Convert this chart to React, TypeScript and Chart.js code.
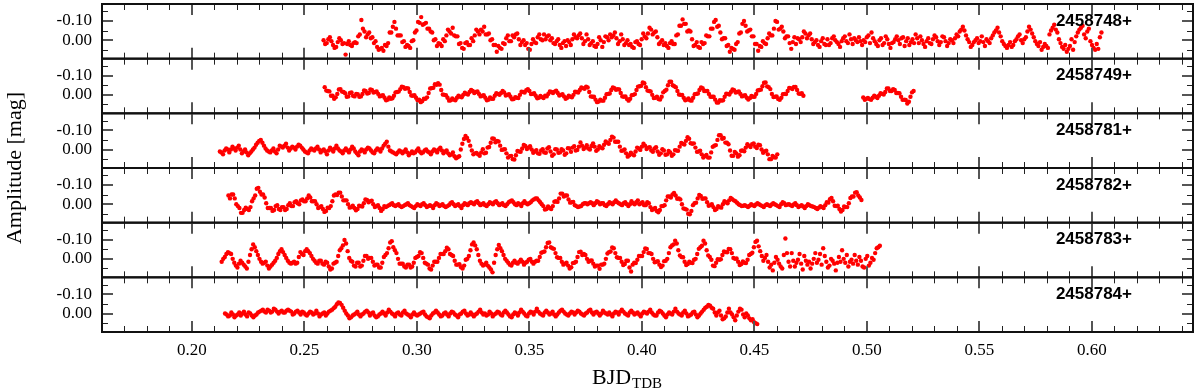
import React, { useEffect, useRef } from 'react';
import { Chart, registerables } from 'chart.js';
Chart.register(...registerables);

// ---------- data ----------
const PANEL_LABELS = ['2458748+', '2458749+', '2458781+', '2458782+', '2458783+', '2458784+'];
const CADENCE = 0.0007; // days between exposures
const X_MIN = 0.16;
const X_MAX = 0.645;
const Y_MIN = -0.188;
const Y_MAX = 0.096;
const X_MAJOR_TICKS = [0.2, 0.25, 0.3, 0.35, 0.4, 0.45, 0.5, 0.55, 0.6];
const X_MINOR_TICKS = [0.16, 0.17, 0.18, 0.19, 0.21, 0.22, 0.23, 0.24, 0.26, 0.27, 0.28, 0.29, 0.31, 0.32, 0.33, 0.34, 0.36, 0.37, 0.38, 0.39, 0.41, 0.42, 0.43, 0.44, 0.46, 0.47, 0.48, 0.49, 0.51, 0.52, 0.53, 0.54, 0.56, 0.57, 0.58, 0.59, 0.61, 0.62, 0.63, 0.64];
const Y_MAJOR_TICKS = [-0.1, 0.0];
const Y_MINOR_TICKS = [-0.15, -0.05, 0.05];

// magnitudes in mmag; first exposure time in BJD - 24587xx
const START_748 = 0.2585;
const MAG_748 = [
  0, 20, 15, -5, -15, 5, 25, 40, 35, 10, -10, 0, 20, 15, 75, 20, 5, 25, 30, 15,
  10, 15, -20, -30, -105, -60, -45, -15, -30, -40, -10, -15, 15, 5, 35, 50, 45, 40, 55, 25,
  30, 15, -40, -40, -70, -95, -60, -25, -25, -25, 10, 5, 35, 25, 30, 40, 5, 0, -40, -50,
  -95, -90, -120, -80, -85, -90, -60, -60, -45, -40, 0, -5, 30, 15, 20, 30, -5, 5, -25, -55,
  -45, -35, -65, -25, -20, -20, 20, 15, 40, 45, 15, 10, 25, 25, -10, 5, -25, -55, -45, -30,
  -55, -45, -70, -30, -30, -35, 0, -5, 25, 25, 60, 30, 40, 45, 15, 20, -10, -25, 5, 5,
  -25, -15, -30, -35, -5, 25, 10, 0, 25, 15, 45, 50, 20, -5, 10, 15, -15, -30, -5, 0,
  -30, -5, -20, -25, 0, -10, 15, 20, 5, -5, 25, 40, 15, 5, 30, 0, 10, 25, -5, -30,
  -15, -10, -25, -35, -10, 20, 5, -30, -5, 25, 15, 5, 30, 35, 20, -15, 0, 35, 10, -20,
  -15, 0, -30, -15, -25, -40, -10, 20, 5, -30, -5, 25, 15, 0, 25, 20, 35, 40, 10, 5,
  20, 25, -5, -35, -20, -10, -35, -65, -55, -30, -40, -45, -15, 20, 10, 0, 25, 15, 30, 40,
  15, 5, 20, 20, -25, -30, -75, -75, -108, -85, -85, -45, -50, -45, -5, 30, 25, 10, 35, 40,
  10, 20, 15, -25, -20, -20, -60, -60, -95, -105, -70, -75, -40, -5, -10, -10, 30, 25, 60, 40,
  45, 50, 20, 10, -35, -40, -85, -100, -75, -45, -50, -55, -20, -20, 20, 20, 55, 30, 35, 5,
  15, 20, -10, -35, -25, -25, -60, -100, -95, -55, -60, -70, -45, -10, -20, -20, 15, 45, 10, -15,
  20, -10, -5, 10, -15, -45, -35, -10, -25, -35, -5, 20, 10, 0, 25, 35, 5, -10, 20, 25,
  -5, 25, 15, -10, -20, 0, 10, 20, 35, 5, -10, -20, 5, 15, -30, -5, 20, -10, 0, 10,
  -15, 5, 25, 0, 10, -15, -25, 15, -40, -10, 5, 20, 30, 0, -10, 25, 15, -20, -5, 20,
  40, 15, 10, -5, -20, 0, 20, -10, -15, 30, 5, -10, 25, 10, -5, 15, -30, -10, 15, -20,
  0, 20, 35, 5, -10, 15, 20, -5, -25, -15, 5, 25, 10, -20, -15, 5, 30, 15, -5, 0,
  15, -10, -30, -20, -45, -55, -70, -50, -25, -5, 10, 35, 25, 10, 0, -10, 15, 5, -20, 10,
  30, -5, 5, 15, -10, -25, -40, -50, -65, -40, -20, 5, 20, 30, 40, 25, 10, 35, 25, 5,
  -5, -20, -30, 0, 15, -5, -15, -45, -70, -55, -35, -15, 5, 20, 30, 10, 50, 35, 20, 30,
  40, -30, -50, -65, -80, -55, -40, -5, 15, 35, 45, 25, 60, 45, 30, -5, 50, 10, -20, -40,
  -55, -65, -75, -30, -10, -45, -60, 5, 25, 40, 50, 20, 45, -15, -40,
];

const START_749A = 0.259;
const MAG_749A = [
  -40, -22, -20, -18, 5, 5, 20, 13, -5, -28, -30, -17, -15, -8, 10, 8, -10, -13, 5, 8,
  -5, -3, 10, 8, -5, -23, -20, -7, -10, -28, -25, -12, -15, -18, -5, 8, 5, 2, 15, 28,
  25, 14, 20, 18, 5, -13, -15, -17, -30, -43, -40, -32, -35, -33, -15, 3, 5, 2, 15, 28,
  25, 38, 32, 20, 20, 13, -10, -33, -35, -37, -55, -52, -60, -53, -25, -2, 0, 2, 15, 30,
  28, 19, 25, 28, 15, 4, 10, 13, 0, -11, -5, -2, -15, -26, -20, -10, -15, -18, -5, 8,
  5, 2, 15, 28, 25, 14, 20, 20, 5, -8, -5, 0, -10, -20, -12, 3, 0, -3, 10, 23,
  22, 12, 15, 16, 0, -16, -15, -12, -24, -30, -20, -4, -5, -8, 5, 18, 15, 6, 12, 16,
  5, 8, -5, -18, -15, -10, -17, -22, -10, 3, 0, -4, 8, 20, 15, 4, 10, 13, 0, -16,
  -15, -12, -25, -38, -35, -32, -42, -38, -15, 8, 10, 10, 25, 38, 35, 25, 30, 30, 15, -3,
  -5, -7, -25, -38, -35, -26, -30, -28, -10, 8, 10, 8, 22, 30, 20, 2, 0, -4, -25, -43,
  -45, -47, -64, -60, -40, -22, -20, -18, 0, 16, 15, 10, 22, 24, 10, -13, -20, -27, -50, -68,
  -68, -50, -45, -40, -20, -2, 0, 0, 15, 28, 25, 19, 28, 30, 15, -3, -5, -7, -25, -38,
  -34, -20, -20, -20, -5, 10, 10, 10, 25, 40, 40, 28, 30, 28, 10, -6, -5, -2, -15, -28,
  -24, -12, -15, -18, -5, 8, 5, 2, 15, 24, 17, 6, 10, 10, -5, -23, -25, -27, -45, -63,
  -64, -44, -40, -30, -5, 11, 10, 8, 22, 26, 15, -3, -5, -4, -20, -36, -35, -30, -41, -41,
  -25, -7, -5, -8, 5,
];
const START_749B = 0.4984;
const MAG_749B = [
  14, 26, 20, 16, 22, 26, 15, 4, 10, 16, 5, -8, -5, -2, -15, -33, -33, -20, -20, -30,
  -25, -10, -10, -8, 10, 26, 25, 27, 45, 36, 10, -13, -20,
];

const START_781 = 0.2124;
const MAG_781 = [
  10, 15, 25, 5, -5, 0, 15, 0, -15, -5, 5, -10, -20, 0, 20, 10, 0, 15, 30, 20,
  10, 0, -10, -25, -35, -45, -50, -35, -20, -5, 5, 10, 15, 5, -5, 10, 20, 0, -20, -15,
  -10, -20, -30, -10, 5, -5, -15, -10, 0, -15, -25, -20, -10, 0, 10, 15, 20, 5, -5, 0,
  5, -5, -15, 0, 15, 5, 0, 10, 25, 5, -10, 0, 10, -5, -20, -5, 5, 10, 20, 5,
  -5, 5, 15, 0, -15, -5, 10, 20, 30, 10, 0, 5, 15, 0, -10, -5, 5, 15, 20, 5,
  -5, 0, 10, -5, -20, -30, -40, -15, 5, 10, 15, 20, 25, 15, 5, 10, 20, 10, 0, 15,
  30, 20, 10, 20, 15, 5, -5, 10, 20, 15, 5, 0, 10, 15, 25, 10, 0, 5, 15, 0,
  -10, 5, 20, 10, 5, 20, 30, 25, 15, 35, 45, 40, 35, 0, -30, -55, -70, -60, -45, -20,
  5, 25, 20, 18, 25, 32, 15, -2, 20, 17, -10, -13, -35, -57, -56, -38, -45, -42, -20, 2,
  0, -2, 20, 42, 35, 33, 50, 52, 30, 8, 10, 12, -5, -24, -18, -3, -10, -17, 0, 17,
  10, 3, 20, 22, 5, -2, 15, 17, -5, -12, 10, 32, 25, -2, 0, 17, 15, -2, 5, 27,
  20, -7, -5, 12, -10, -17, 5, 2, -15, -37, -20, -3, -10, -22, -5, 0, -18, -32, -15, 7,
  0, -17, -10, -6, -25, -42, -35, -30, -50, -67, -62, -40, -40, -40, -15, 7, 5, 0, 20, 37,
  30, 16, 25, 30, 10, -10, -5, 2, -15, -30, -20, -3, -10, -12, 5, 12, -5, -12, 10, 27,
  20, -2, 5, 27, 25, 8, 15, 32, 25, 3, 5, 7, -15, -34, -30, -26, -45, -64, -56, -33,
  -30, -32, -10, 12, 10, 6, 25, 42, 35, 28, 42, 42, 15, -14, -20, -23, -50, -74, -74, -56,
  -60, -36, -35, -27, 5, 32, 33, 13, 20, 37, 30, 6, 5, 9, -10, -27, -20, -13, -27, -32,
  -15, -8, -25, -22, 0, 17, 10, 6, 25, 50, 50, 33, 40, 42, 25,
];

const START_782 = 0.2162;
const MAG_782 = [
  -45, -30, -50, -50, -30, 0, 10, 20, 45, 45, 30, 18, 25, 30, 15, -15, -30, -45, -80, -85,
  -65, -50, -50, -35, -5, 20, 20, 20, 35, 30, 10, 5, 25, 30, 15, 15, 30, 25, 5, -5,
  10, 10, -10, -15, -5, 0, -20, -25, -15, -15, -30, -45, -35, -15, -15, -15, 0, 20, 15, 10,
  25, 40, 35, 18, 20, 10, -15, -45, -50, -48, -60, -60, -40, -20, -20, -20, 0, 18, 15, 8,
  20, 32, 25, 8, 10, 12, -5, -25, -22, -10, -15, -18, 0, 15, 10, 5, 20, 35, 25, 10,
  15, 10, 5, 0, -5, 5, 10, 5, 0, 10, 15, 10, 5, 0, -5, 5, 10, 15, 20, 10,
  0, 5, 10, 0, -5, 5, 15, 10, 5, 10, 20, 5, -5, 0, 10, 5, 0, 10, 15, 10,
  5, -5, -10, 0, 10, 5, 0, 10, 20, 5, -5, 0, 5, -5, -10, -5, 0, -10, -15, -5,
  5, 0, -5, 5, 10, 0, -10, -5, 0, -10, -15, -5, 5, 0, -5, 5, 10, 0, -10, -15,
  -20, -10, 0, 5, -5, 0, 10, -5, -15, -5, 0, -5, -10, -20, -25, -30, -30, -20, -10, 0,
  10, 28, 25, 12, 20, 25, 10, -13, -15, -12, -30, -55, -55, -40, -45, -45, -25, -8, -10, -12,
  5, 10, 15, 12, 10, 0, -5, -5, 0, -5, -10, -5, 5, -5, -15, -10, 0, -5, -5, 5,
  10, 0, -10, -5, 0, -10, -20, -10, -5, 0, 5, -5, -10, 0, 10, 0, -15, -5, 0, -10,
  -20, 0, -5, -10, 5, 5, -10, -5, 15, 30, 25, 20, 35, 42, 30, 10, 10, 5, -20, -40,
  -40, -35, -50, -58, -45, -28, -30, -25, 0, 22, 25, 28, 50, 52, 35, 5, -5, -8, -30, -48,
  -43, -28, -30, -30, -10, 8, 5, 0, 15, 30, 25, 10, 15, 18, 0, -15, -10, -5, -20, -33,
  -26, -20, -15, -8, 0, 5, 10, 8, 5, 10, 15, 8, 0, 5, 10, 2, -5, 0, 5, 10,
  15, 5, 0, 5, 10, 2, -5, 0, 5, 10, 15, 0, -10, -5, 5, 2, 0, 5, 10, 2,
  -5, 5, 15, 10, 5, 12, 20, 10, 0, 5, 10, 12, 15, 20, 25, 18, 10, 15, 20, 5,
  -10, -8, -26, -32, -15, 8, 10, 8, 25, 38, 30, 12, 15, 15, -5, -32, -40, -40, -60, -62,
  -45, -35, -22,
];

const START_783 = 0.2132;
const MAG_783 = [
  15, 0, -10, -25, -35, -30, -25, 0, 20, 35, 45, 25, 10, 20, 30, 40, 50, 15, -20, -50,
  -75, -60, -40, -20, 0, 15, 25, 20, 15, 35, 50, 40, 30, 20, 10, -5, -25, -40, -50, -35,
  -20, -5, 10, 20, 25, 20, 15, 25, 20, -10, -35, -25, -20, -40, -50, -40, -30, -15, 0, 10,
  20, 25, 10, 10, 25, 30, 15, 20, 40, 55, 50, 25, 20, 15, -15, -45, -55, -70, -98, -80,
  -40, -5, 10, 15, 35, 40, 20, 20, 40, 35, 10, -15, -15, 0, -5, -5, 15, 35, 30, 30,
  45, 45, 20, -10, -20, -30, -55, -85, -92, -60, -45, -30, 0, 25, 25, 25, 40, 45, 30, 30,
  45, 40, 20, -5, -10, -15, -34, -30, -5, 20, 25, 30, 50, 55, 35, 15, 15, 15, -5, -25,
  -25, -25, -40, -58, -50, -25, -20, -15, 10, 30, 30, 28, 44, 50, 35, 5, 0, -15, -45, -75,
  -85, -70, -50, -20, 10, 25, 35, 30, 20, 35, 45, 55, 70, 20, -20, -50, -72, -55, -40, -20,
  0, 10, 20, 30, 35, 20, 10, 20, 25, 15, 5, 15, 30, 20, 15, 5, 0, 15, 25, 15,
  10, 10, -10, -32, -35, -38, -60, -82, -85, -60, -55, -52, -30, -8, -5, -5, 15, 30, 25, 20,
  35, 50, 44, 22, 20, 15, -10, -35, -37, -20, -25, -20, 0, 15, 10, 8, 25, 40, 35, 35,
  52, 30, 30, 25, 0, -28, -35, -38, -59, -55, -30, -8, -5, -5, 15, 32, 27, 10, 10, 45,
  66, 30, 20, 22, 5, -15, -15, -15, -35, -54, -51, -30, -30, -25, 0, 18, 15, 12, 30, 42,
  35, 12, 10, 0, -30, -60, -70, -75, -94, -80, -45, -18, -10, -8, 15, 32, 27, 15, 20, 22,
  5, 0, -25, -52, -60, -68, -94, -80, -45, -18, -10, 5, 35, 38, 20, 2, 5, 2, -20, -38,
  -35, -34, -51, -50, -30, -5, 0, -2, 15, 32, 27, 14, 20, 22, 5, -20, -25, -32, -60, -88,
  -94, -65, -40, -15, 10, -5, -20, 15, 45, 30, 60, 20, -10, 5, 25, 40, 50, -20, -106, -30,
  15, 40, -30, 10, 40, 20, 5, -25, 25, 55, -15, 10, 30, 15, 50, 25, 0, -30, 20, 5,
  -25, 30, -55, -15, 15, 45, 35, 0, 10, 25, 60, 20, -10, 15, -45, 0, 20, -20, 40, 15,
  5, 25, -20, 10, 30, -10, 10, 40, 45, 0, -15, 35, 20, -5, 5, -30, -55, -60, -68,
];

const START_784 = 0.2147;
const MAG_784 = [
  0, 5, 15, 10, -5, 5, 20, 10, 5, -5, 10, 0, -10, 5, 15, -5, 0, 10, 20, 10,
  5, -5, -10, -15, -20, -10, -5, -20, -15, -5, -10, -25, -20, -10, 0, -10, -15, -5, -5, -15,
  -20, -15, -10, 5, 0, -10, -15, -5, 5, -10, -5, 5, 10, 0, -10, -5, 5, 0, -15, 0,
  15, 5, 0, -5, 10, 0, -10, -15, -20, -28, -35, -48, -58, -55, -45, -30, -15, 0, 10, 25,
  20, 10, 5, 0, -10, 5, 15, 5, 0, -10, -15, -5, 10, 0, -5, 10, 20, 15, 5, 0,
  -10, 0, 10, -5, -20, -10, 0, 5, 15, 0, -5, 5, 10, -5, -15, 0, 5, 10, 20, 5,
  -5, 5, 10, 5, 0, -5, -10, 5, 15, 20, 25, 10, 0, -5, -15, -5, 5, 15, 10, 0,
  -5, 5, 15, 0, -10, -5, 5, 10, 20, 5, 0, -10, -15, 0, 10, 5, -5, 5, 15, 5,
  0, -10, -20, -5, 5, 0, 10, 5, -10, 0, 15, 5, 0, -10, -5, 5, 10, -5, -15, -5,
  5, 15, 20, 5, -5, 0, 10, -5, -20, -10, 0, 10, 15, 0, -10, -5, 5, -10, -25, -10,
  0, 5, 10, -5, -15, -5, 5, 0, -10, 5, 15, 5, -5, -15, -20, -10, 0, 5, 10, 0,
  -10, -5, 5, -5, -15, -10, 0, 5, 10, 0, -5, -15, -20, -5, 5, -5, -10, 0, 10, 0,
  -15, -5, 0, 5, -5, 5, 15, 0, -10, -5, 5, -10, -20, -10, 0, 5, 10, -5, -15, -5,
  5, 0, -5, 5, 15, 0, -10, -5, 0, -10, -20, -5, 5, 10, 10, -5, -15, -10, 0, 10,
  20, 5, -5, 0, 5, -10, -25, -10, 0, 5, 10, -5, -15, 0, 15, 10, 5, -5, -10, 5,
  20, 10, 0, -10, -20, -30, -35, -45, -40, -30, -25, -5, 10, -5, -15, 10, 30, 25, 15, -5,
  -25, -5, 5, 20, 35, 10, -10, -25, -20, 5, 20, 0, 10, 25, 35, 30, 45, 50, 55,
];

// ---------- chart ----------
const PANEL_IDS = ['y0', 'y1', 'y2', 'y3', 'y4', 'y5'];

const toPoints = (start: number, mags: number[]) =>
  mags.map((m, i) => ({ x: start + i * CADENCE, y: m / 1000 }));

const PANEL_DATA = [
  toPoints(START_748, MAG_748),
  [...toPoints(START_749A, MAG_749A), ...toPoints(START_749B, MAG_749B)],
  toPoints(START_781, MAG_781),
  toPoints(START_782, MAG_782),
  toPoints(START_783, MAG_783),
  toPoints(START_784, MAG_784),
];

const SERIF = '"Liberation Serif", "Times New Roman", serif';

const decorPlugin = {
  id: 'decor',
  afterDraw(chart: any) {
    const { ctx, chartArea } = chart;
    const xs = chart.scales.x;
    const left = chartArea.left;
    const right = chartArea.right;
    ctx.save();
    PANEL_IDS.forEach((id, p) => {
      const s = chart.scales[id];
      const top = s.top;
      const bottom = s.bottom;
      ctx.strokeStyle = '#222';
      ctx.lineWidth = 1;
      ctx.beginPath();
      X_MINOR_TICKS.forEach((v) => {
        const px = Math.round(xs.getPixelForValue(v)) + 0.5;
        ctx.moveTo(px, top);
        ctx.lineTo(px, top + 6);
        ctx.moveTo(px, bottom);
        ctx.lineTo(px, bottom - 6);
      });
      Y_MINOR_TICKS.forEach((v) => {
        const py = Math.round(s.getPixelForValue(v)) + 0.5;
        ctx.moveTo(left, py);
        ctx.lineTo(left + 6, py);
        ctx.moveTo(right, py);
        ctx.lineTo(right - 6, py);
      });
      ctx.stroke();
      ctx.strokeStyle = '#555';
      ctx.lineWidth = 2;
      ctx.beginPath();
      X_MAJOR_TICKS.forEach((v) => {
        const px = Math.round(xs.getPixelForValue(v));
        ctx.moveTo(px, top);
        ctx.lineTo(px, top + 11);
        ctx.moveTo(px, bottom);
        ctx.lineTo(px, bottom - 11);
      });
      Y_MAJOR_TICKS.forEach((v) => {
        const py = Math.round(s.getPixelForValue(v));
        ctx.moveTo(left, py);
        ctx.lineTo(left + 11, py);
        ctx.moveTo(right, py);
        ctx.lineTo(right - 11, py);
      });
      ctx.stroke();
      ctx.strokeStyle = '#111';
      ctx.lineWidth = 2;
      ctx.strokeRect(left, top, right - left, bottom - top);
      ctx.fillStyle = '#000';
      ctx.font = 'bold 17px "Liberation Sans", Arial, sans-serif';
      ctx.textAlign = 'right';
      ctx.textBaseline = 'middle';
      ctx.fillText(PANEL_LABELS[p], right - 61, top + 17);
    });
    // y title
    ctx.save();
    ctx.translate(15, (chartArea.top + chartArea.bottom) / 2);
    ctx.rotate(-Math.PI / 2);
    ctx.font = `22px ${SERIF}`;
    ctx.textAlign = 'center';
    ctx.textBaseline = 'middle';
    ctx.fillStyle = '#000';
    ctx.fillText('Amplitude [mag]', 0, 0);
    ctx.restore();
    // x title with subscript
    ctx.fillStyle = '#000';
    ctx.textBaseline = 'alphabetic';
    ctx.textAlign = 'left';
    ctx.font = `22px ${SERIF}`;
    const w1 = ctx.measureText('BJD').width;
    const x0 = left + 490;
    ctx.fillText('BJD', x0, 384);
    ctx.font = `15px ${SERIF}`;
    ctx.fillText('TDB', x0 + w1 + 1, 388);
    ctx.restore();
  },
};

export default function App() {
  const ref = useRef<HTMLCanvasElement | null>(null);
  useEffect(() => {
    if (!ref.current) return;
    const scales: any = {
      x: {
        type: 'linear',
        position: 'bottom',
        min: X_MIN,
        max: X_MAX,
        grid: { display: false, drawTicks: false },
        border: { display: false },
        afterBuildTicks: (scale: any) => {
          scale.ticks = X_MAJOR_TICKS.map((v) => ({ value: v }));
        },
        afterFit: (scale: any) => {
          scale.height = 57;
          scale.paddingLeft = 0;
          scale.paddingRight = 0;
        },
        ticks: {
          autoSkip: false,
          maxRotation: 0,
          padding: 8,
          color: '#000',
          font: { family: SERIF, size: 17 },
          callback: (v: any) => Number(v).toFixed(2),
        },
      },
    };
    PANEL_IDS.forEach((id, p) => {
      scales[id] = {
        type: 'linear',
        position: 'left',
        stack: 'panels',
        stackWeight: 1,
        weight: 10 - p,
        min: Y_MIN,
        max: Y_MAX,
        reverse: true,
        grid: { display: false, drawTicks: false },
        border: { display: false },
        afterBuildTicks: (scale: any) => {
          scale.ticks = Y_MAJOR_TICKS.map((v) => ({ value: v }));
        },
        afterFit: (scale: any) => {
          scale.width = 102;
          scale.paddingTop = 0;
          scale.paddingBottom = 0;
        },
        ticks: {
          padding: 10,
          color: '#000',
          font: { family: SERIF, size: 17 },
          callback: (v: any) => Number(v).toFixed(2),
        },
      };
    });
    const chart = new Chart(ref.current, {
      type: 'scatter',
      data: {
        datasets: PANEL_DATA.map((pts, p) => ({
          label: PANEL_LABELS[p],
          data: pts,
          yAxisID: PANEL_IDS[p],
          pointRadius: 2.2,
          pointBorderWidth: 0,
          pointBackgroundColor: '#ff0000',
          backgroundColor: '#ff0000',
          borderColor: '#ff0000',
          showLine: false,
        })),
      },
      options: {
        animation: false,
        responsive: true,
        maintainAspectRatio: false,
        layout: { padding: { left: 0, right: 7, top: 3, bottom: 0 } },
        plugins: { legend: { display: false }, tooltip: { enabled: false } },
        scales,
      },
      plugins: [decorPlugin],
    });
    return () => chart.destroy();
  }, []);
  return (
    <div style={{ position: 'fixed', left: 0, top: 0, width: 1200, height: 389, background: '#fff' }}>
      <canvas ref={ref} />
    </div>
  );
}
